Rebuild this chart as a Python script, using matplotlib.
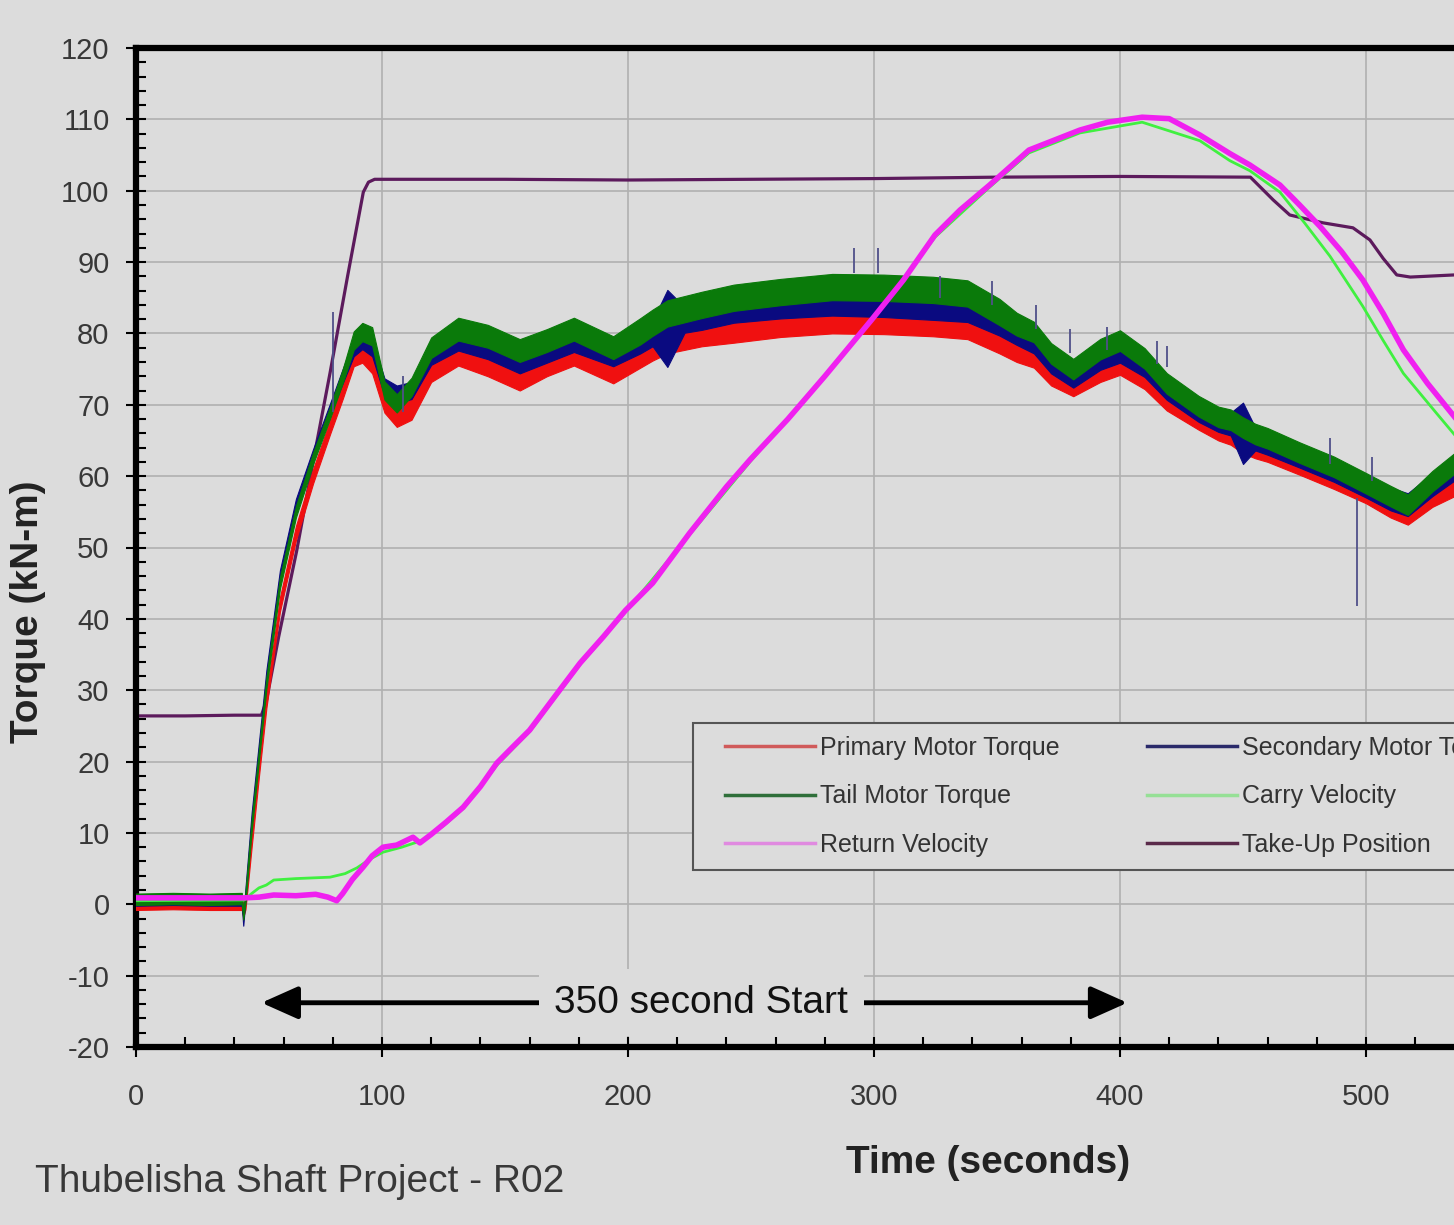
import numpy as np
import matplotlib
matplotlib.use("Agg")
import matplotlib.pyplot as plt
from matplotlib.lines import Line2D
from matplotlib.patches import Rectangle
from matplotlib.ticker import MultipleLocator

plt.rcParams['font.family'] = ['Liberation Sans', 'DejaVu Sans']
plt.rcParams['axes.unicode_minus'] = False

# ---- data (time in s) ----
torque_t = [0, 15, 30, 43, 43.6, 44.5, 47, 50, 53, 58.5, 65, 72, 79, 84, 88.5, 92, 96,
            101, 106, 112, 120, 131, 143, 156, 167, 178, 194, 205, 210, 216, 223, 230, 243, 262,
            283, 304, 324, 338, 351, 358, 365, 372, 381, 392, 400, 410, 419, 432, 440, 445,
            450, 455, 460, 473, 487, 500, 510, 517, 527, 536]
tail_torque = [0.7, 0.8, 0.7, 0.8, -1.5, 1.0, 11, 21, 31, 45, 55, 62.5, 69, 74, 79, 80.2, 79.6,
               72, 70.2, 72.5, 78, 80.6, 79.6, 77.6, 79, 80.6, 78, 80.3, 81.5, 82.8, 83.4, 84, 85, 85.8,
               86.5, 86.4, 86.1, 85.6, 83, 81.3, 80.2, 77.2, 75.0, 77.8, 79, 76.5, 73, 69.8, 68.3, 67.9,
               66.8, 65.9, 65.3, 63.3, 61.3, 59, 57.2, 56, 59.3, 61.8]
primary_torque = [0.2, 0.3, 0.2, 0.2, -1, 0.3, 9, 19, 28.5, 42, 52, 60, 67, 72, 77, 77.5, 76,
                  70.5, 68.5, 69.5, 75, 77.5, 76, 74, 76, 77.5, 75, 77.5, 78.5, 79.5, 80, 80.5, 81, 81.8,
                  82.3, 82.2, 81.9, 81.5, 79.5, 78, 77, 74.5, 73, 75, 76, 74, 71, 68.3, 66.8, 66.2,
                  65, 64.3, 63.8, 62, 60, 58, 56, 55, 57.5, 59]
secondary_torque = [0.4, 0.5, 0.4, 0.4, -2.4, 1.5, 12, 22, 32, 46, 56, 63, 69.5, 74, 78, 79, 78,
                    72.5, 71.5, 72, 77, 79.2, 78, 76, 77.5, 79, 77, 79, 80, 80.7, 81.9, 82.3, 83.3, 83.9,
                    84.3, 84.1, 83.7, 83.4, 81.5, 80, 78.8, 76, 74, 76.5, 77.5, 75.5, 72.3, 69.2, 67.8, 67.3,
                    66, 65.2, 64.6, 62.8, 60.8, 58.6, 56.8, 56, 58.8, 61]
# spread of the noisy torque traces (half band height)
torque_noise = [1.0, 1.0, 1.0, 1.0, 0.8, 1.0, 1.0, 1.0, 1.0, 1.0, 1.0, 1.0, 1.0, 1.2, 1.6, 1.6, 1.6,
                1.6, 1.6, 1.6, 1.8, 2.0, 2.0, 2.0, 2.0, 2.0, 2.0, 2.3, 2.3, 2.3, 2.3, 2.3, 2.3, 2.3,
                2.3, 2.3, 2.3, 2.3, 2.3, 2.0, 1.8, 1.8, 1.8, 1.8, 1.8, 1.8, 1.8, 1.8, 1.8, 1.8,
                1.8, 1.8, 1.8, 1.8, 1.8, 1.8, 1.8, 1.8, 1.8, 1.8]
secondary_noise = [0.6, 0.6, 0.6, 0.6, 0.6, 0.8, 0.8, 0.8, 0.8, 0.8, 0.8, 0.8, 0.8, 1.0, 1.2, 1.2, 1.2,
                   1.2, 1.2, 1.2, 1.4, 1.6, 1.6, 1.6, 1.6, 1.6, 1.6, 1.8, 1.8, 5.4, 1.8, 1.8, 1.8, 1.8,
                   1.8, 1.8, 1.8, 1.8, 1.8, 1.6, 1.6, 1.6, 1.6, 1.6, 1.6, 1.6, 1.6, 1.6, 1.6, 1.6,
                   4.3, 1.6, 1.6, 1.6, 1.6, 1.6, 1.6, 1.6, 1.6, 1.6]

spike_t = [80, 108.7, 292, 301.6, 327, 348, 366, 379.7, 394.6, 414.9, 419.3, 485.4, 496.2, 502.3]
spike_lo = [69, 69, 88.5, 88.5, 85, 84, 80.6, 77.3, 77.7, 75.7, 75.3, 61.7, 41.8, 59.3]
spike_hi = [83, 74, 92, 92, 88, 87.4, 84, 80.6, 80.9, 78.9, 78.2, 65.3, 57, 62.7]

return_t = [0, 44, 50, 56, 65, 73, 78, 81.6, 84, 88, 92.3, 96, 100.4, 106, 112.6, 115.4, 120,
            126, 133, 140, 146.7, 153, 160, 170, 180.5, 190, 199, 210, 225, 240, 249.6, 265,
            280, 299, 312, 324.8, 335, 347, 363, 383.7, 395, 409, 420, 432.5, 444.7, 452.8,
            465, 473, 481.3, 490, 498.7, 507, 515.2, 525, 536]
return_vel = [0.9, 0.9, 1.0, 1.3, 1.2, 1.4, 1.0, 0.5, 1.5, 3.5, 5.2, 6.8, 8.0, 8.3, 9.4, 8.6, 9.8,
              11.5, 13.6, 16.5, 19.8, 22, 24.4, 29, 33.8, 37.5, 41.2, 45, 52, 58.5, 62.3, 68,
              74, 81.9, 87.5, 93.8, 97.3, 100.8, 105.7, 108.5, 109.6, 110.3, 110.1, 107.8, 105.2, 103.6,
              100.8, 98, 95, 91.5, 87.5, 82.8, 77.7, 73, 68.3]

carry_t = [0, 44, 47, 50, 53, 56, 65, 78.9, 85, 89.8, 95, 100.4, 108, 116.7, 125, 133, 146.7,
           160, 180.5, 199, 249.6, 299, 324.8, 347, 363, 383.7, 409, 432.5, 444.7, 452.8, 465,
           475, 485.4, 498.7, 507, 515.2, 528.7, 536]
carry_vel = [0.5, 0.6, 1.5, 2.3, 2.7, 3.4, 3.6, 3.8, 4.3, 5.1, 6.3, 7.3, 8.0, 9.0, 11, 13.4, 19.5,
             24.2, 33.6, 41.0, 62.0, 81.7, 93.5, 100.5, 105.3, 108.1, 109.6, 107.0, 104.2, 102.8, 99.8,
             95.5, 90.8, 83.8, 79, 74.4, 68.8, 65.8]

takeup_t = [0, 20, 40, 51, 53, 58, 65.3, 72, 78.9, 86, 92.4, 94.5, 97, 150, 200, 250, 300, 350,
            400, 453, 462.3, 469, 482.5, 494.7, 501.6, 507, 512.5, 518, 536]
takeup_pos = [26.4, 26.4, 26.5, 26.5, 28.5, 37.5, 49.5, 62, 74.5, 88, 99.8, 101.2, 101.6, 101.6,
              101.5, 101.6, 101.7, 101.9, 102.0, 101.9, 98.7, 96.6, 95.5, 94.8, 93.1, 90.5, 88.2,
              87.9, 88.2]

x_ticks = [0, 100, 200, 300, 400, 500]
labels_col1 = ["Primary Motor Torque", "Tail Motor Torque", "Return Velocity"]
labels_col2 = ["Secondary Motor Torque", "Carry Velocity", "Take-Up Position"]

# ---- figure ----
bg = '#dcdcdc'
fig = plt.figure(figsize=(14.54, 12.25), dpi=100, facecolor=bg)
ax = fig.add_axes([136/1454, 1 - 1047/1225, 1476/1454, 999/1225])
ax.set_facecolor(bg)
ax.set_xlim(0, 600)
ax.set_ylim(-20, 120)

c_red, c_blue, c_green = '#f01010', '#0a0a80', '#0a7a0a'
c_carry, c_return, c_takeup = '#40f040', '#f020f0', '#5c1a5c'

tt = np.array(torque_t)
noise = np.array(torque_noise)
ax.plot(takeup_t, takeup_pos, color=c_takeup, lw=2.3, zorder=2)
p = np.array(primary_torque)
ax.fill_between(tt, p - noise, p + noise, color=c_red, lw=0.8, zorder=3)
s = np.array(secondary_torque)
sn = np.array(secondary_noise)
ax.fill_between(tt, s - sn, s + sn, color=c_blue, lw=0.8, zorder=4)
g = np.array(tail_torque)
ax.fill_between(tt, g - noise * 0.8, g + noise * 0.8, color=c_green, lw=0.8, zorder=5)
ax.vlines(spike_t, spike_lo, spike_hi, color='#50508a', lw=1.3, zorder=5)
ax.plot(carry_t, carry_vel, color=c_carry, lw=2.0, zorder=6)
ax.plot(return_t, return_vel, color=c_return, lw=4.0, zorder=7)

# ---- axes styling ----
for side in ['left', 'bottom', 'top']:
    ax.spines[side].set_linewidth(4.5)
    ax.spines[side].set_color('black')
ax.spines['right'].set_visible(False)
ax.set_xticks(x_ticks)
ax.xaxis.set_minor_locator(MultipleLocator(20))
ax.yaxis.set_major_locator(MultipleLocator(10))
ax.yaxis.set_minor_locator(MultipleLocator(2))
ax.tick_params(which='major', direction='inout', length=14, width=1.5, color='black',
               labelsize=21, labelcolor='#383838')
ax.tick_params(axis='x', which='major', pad=19)
ax.tick_params(axis='y', which='major', pad=12)
ax.tick_params(which='minor', direction='in', length=7, width=1.5, color='black')
ax.tick_params(top=False, right=False, which='both')
ax.grid(True, which='major', color='#b0b0b0', lw=1.2, zorder=0)
ax.axvline(600, color='#b0b0b0', lw=1.2, zorder=0)
ax.set_axisbelow(True)

# ---- annotation ----
ax.annotate('', xy=(51, -13.8), xytext=(403, -13.8),
            arrowprops=dict(arrowstyle='<|-|>,head_length=0.56,head_width=0.25',
                            lw=3.5, color='black', shrinkA=0, shrinkB=0, mutation_scale=40),
            zorder=8)
ax.text(229.7, -13.8, '350 second Start', fontsize=28, ha='center', va='center', color='#111111',
        zorder=9, bbox=dict(boxstyle='square,pad=0.4', fc=bg, ec='none'))

# ---- legend (box clipped by the right edge as in the source) ----
fig.patches.append(Rectangle((693/1454, 1 - 870/1225), 0.6, 147/1225, transform=fig.transFigure,
                             facecolor=bg, edgecolor='#555555', lw=1.5, zorder=5))
col1 = [Line2D([], [], color='#d05a5a', lw=2.5), Line2D([], [], color='#2f6f3a', lw=2.5),
        Line2D([], [], color='#e08ae0', lw=2.5)]
col2 = [Line2D([], [], color='#2a2a6a', lw=2.5), Line2D([], [], color='#96e096', lw=2.5),
        Line2D([], [], color='#5a2a4a', lw=2.5)]
for handles, labels, x0 in [(col1, labels_col1, 725), (col2, labels_col2, 1147)]:
    leg = fig.legend(handles, labels, loc='upper left', bbox_to_anchor=(x0/1454, 1 - 736/1225),
                     frameon=False, borderpad=0, borderaxespad=0, fontsize=18,
                     handlelength=3.6, handletextpad=0.2, labelspacing=0.98, labelcolor='#333333')
    leg.set_zorder(6)

# ---- labels ----
fig.text(28/1454, 1 - 612/1225, 'Torque (kN-m)', rotation=90, ha='center', va='center',
         fontsize=28, fontweight='bold', color='#222222')
fig.text(988/1454, 1 - 1163/1225, 'Time (seconds)', ha='center', va='center',
         fontsize=28, fontweight='bold', color='#222222')
fig.text(35/1454, 1 - 1182/1225, 'Thubelisha Shaft Project - R02', ha='left', va='center',
         fontsize=28, color='#383838')

fig.savefig('out.png', dpi=100, facecolor=bg)
